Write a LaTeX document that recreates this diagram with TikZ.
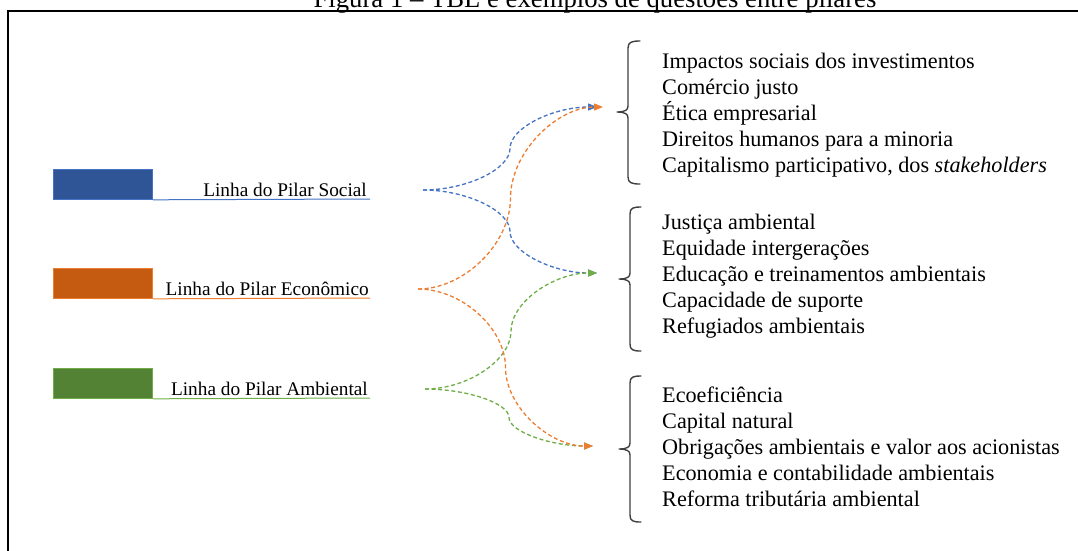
\documentclass[tikz,border=0pt]{standalone}
\usepackage{fontspec}
\setmainfont{Liberation Serif}
\usetikzlibrary{arrows.meta,calc}

\definecolor{socialdark}{HTML}{2F5597}
\definecolor{sociallight}{HTML}{4472C4}
\definecolor{econdark}{HTML}{C55A11}
\definecolor{econlight}{HTML}{ED7D31}
\definecolor{envdark}{HTML}{548235}
\definecolor{envlight}{HTML}{70AD47}
\definecolor{bracegray}{HTML}{3F3F3F}

\tikzset{
  pillarbar/.style={rectangle, inner sep=0pt, minimum width=99pt, minimum height=30pt,
                    anchor=north west, line width=0.8pt},
  pillartext/.style={anchor=base east, inner sep=0pt, font=\fontsize{19.3}{22}\selectfont},
  itemtext/.style={anchor=base west, inner sep=0pt, font=\fontsize{22.2}{26}\selectfont},
  bracestroke/.style={draw=bracegray, line width=1.4pt, line cap=round, line join=round},
  % curved connector: horizontal start, vertical tangent half way, horizontal end
  flow/.style={dash pattern=on 4pt off 2.6pt, line width=1.3pt,
    -{Triangle[length=9pt,width=7pt]},
    to path={let \p1=(\tikztostart), \p2=(\tikztotarget) in
      .. controls ({0.75*\x1+0.25*\x2},\y1) and ({0.5*\x1+0.5*\x2},{0.75*\y1+0.25*\y2})
      .. ({0.5*\x1+0.5*\x2},{0.5*\y1+0.5*\y2})
      .. controls ({0.5*\x1+0.5*\x2},{0.25*\y1+0.75*\y2}) and ({0.25*\x1+0.75*\x2},\y2)
      .. (\tikztotarget)}},
}

\begin{document}
\begin{tikzpicture}[x=1pt,y=-1pt]
\clip (0,0) rectangle (1078,550);

% caption and frame
\node[anchor=base, inner sep=0pt, font=\fontsize{26.7}{30}\selectfont] (caption) at (595,7)
  {Figura 1 -- TBL e exemplos de questões entre pilares};
\draw[line width=1.8pt] (8,560) -- (8,11) -- (1090,11);

% the three pillars
\node[pillarbar, fill=socialdark, draw=sociallight] (socbar) at (53,169) {};
\node[pillarbar, fill=econdark, draw=econlight] (econbar) at (53,268) {};
\node[pillarbar, fill=envdark, draw=envlight] (envbar) at (53,368) {};

\coordinate (socend) at (370,199);
\coordinate (econend) at (370,298);
\coordinate (envend) at (370,398);
\draw[sociallight, line width=1pt] (socbar.south east) -- (socend);
\draw[econlight, line width=1pt] (econbar.south east) -- (econend);
\draw[envlight, line width=1pt] (envbar.south east) -- (envend);

\node[pillartext] (soclabel) at (367,196) {Linha do Pilar Social};
\node[pillartext] (econlabel) at (369,295) {Linha do Pilar Econômico};
\node[pillartext] (envlabel) at (368,395) {Linha do Pilar Ambiental};

% connector ends
\coordinate (socsrc) at (423,190);
\coordinate (econsrc) at (418,289);
\coordinate (envsrc) at (425,389);
\coordinate (topA) at (597,107);
\coordinate (topB) at (603,107);
\coordinate (midA) at (597,273);
\coordinate (botA) at (593,446);

\draw[flow, sociallight] (socsrc) to (topA);
\draw[flow, sociallight] (socsrc) to (midA);
\draw[flow, envlight] (envsrc) to (midA);
\draw[flow, envlight] (envsrc) to (botA);
\draw[flow, econlight] (econsrc) to (topB);
\draw[flow, econlight] (econsrc) to (botA);

% braces
\draw[bracestroke] (640,41) .. controls (632,41) and (628,42) .. (628,48) -- (628,106)
  .. controls (628,110) and (625,112) .. (617,112)
  .. controls (625,112) and (628,114) .. (628,118) -- (628,177)
  .. controls (628,183) and (632,184) .. (640,184);
\draw[bracestroke] (641,207) .. controls (633,207) and (630,208) .. (630,214) -- (630,273)
  .. controls (630,277) and (627,279) .. (619,279)
  .. controls (627,279) and (630,281) .. (630,285) -- (630,344)
  .. controls (630,350) and (633,351) .. (641,351);
\draw[bracestroke] (641,376) .. controls (633,376) and (630,377) .. (630,383) -- (630,443)
  .. controls (630,447) and (627,449) .. (619,449)
  .. controls (627,449) and (630,451) .. (630,455) -- (630,515)
  .. controls (630,521) and (633,522) .. (641,522);

% issue lists
\foreach \txt [count=\i] in {Impactos sociais dos investimentos, Comércio justo, Ética empresarial,
    Direitos humanos para a minoria, {Capitalismo participativo, dos \textit{stakeholders}}}
  \node[itemtext] (soc\i) at (662,{68+26*(\i-1)}) {\txt};
\foreach \txt [count=\i] in {Justiça ambiental, Equidade intergerações,
    Educação e treinamentos ambientais, Capacidade de suporte, Refugiados ambientais}
  \node[itemtext] (env\i) at (662,{229+26*(\i-1)}) {\txt};
\foreach \txt [count=\i] in {Ecoeficiência, Capital natural,
    Obrigações ambientais e valor aos acionistas, Economia e contabilidade ambientais,
    Reforma tributária ambiental}
  \node[itemtext] (eco\i) at (662,{402+26.2*(\i-1)}) {\txt};
\end{tikzpicture}
\end{document}
